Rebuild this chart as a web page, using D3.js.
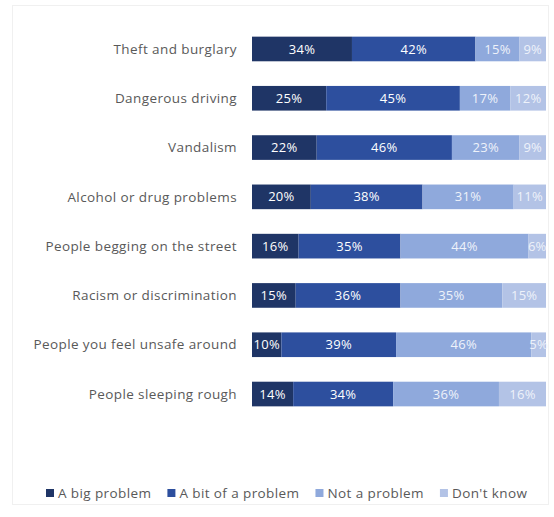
<!DOCTYPE html>
<html>
<head>
<meta charset="utf-8">
<script src="https://cdn.jsdelivr.net/npm/d3@7"></script>
<style>
  html, body { margin: 0; padding: 0; background: #ffffff; }
  svg { display: block; }
</style>
</head>
<body>
<svg id="chart" width="554" height="517"></svg>
<script>
// Survey issues, top to bottom
const categories = [
  "Theft and burglary",
  "Dangerous driving",
  "Vandalism",
  "Alcohol or drug problems",
  "People begging on the street",
  "Racism or discrimination",
  "People you feel unsafe around",
  "People sleeping rough"
];

const seriesNames = ["A big problem", "A bit of a problem", "Not a problem", "Don't know"];

// Percentages per series, in category order
const bigProblem   = [34, 25, 22, 20, 16, 15, 10, 14];
const bitOfProblem = [42, 45, 46, 38, 35, 36, 39, 34];
const notProblem   = [15, 17, 23, 31, 44, 35, 46, 36];
const dontKnow     = [ 9, 12,  9, 11,  6, 15,  5, 16];

const seriesValues = [bigProblem, bitOfProblem, notProblem, dontKnow];
const colors = ["#1f3566", "#2d4f9e", "#8fa9dc", "#b3c3e6"];

const svg = d3.select("#chart");

// faint frame around the chart area
svg.append("rect")
  .attr("x", 12.5).attr("y", 5.5)
  .attr("width", 536).attr("height", 499)
  .attr("fill", "none")
  .attr("stroke", "#f0f0f0")
  .attr("stroke-width", 1);

const rows = categories.map((c, i) => {
  const r = { category: c };
  seriesNames.forEach((s, j) => r[s] = seriesValues[j][i]);
  r.total = d3.sum(seriesValues, v => v[i]);
  return r;
});

const stacked = d3.stack().keys(seriesNames)(rows);

const x = d3.scaleLinear().domain([0, 100]).range([252, 546]);
const y = d3.scaleBand().domain(categories).range([12, 431]).paddingInner(0.5).paddingOuter(0.5);

const font = "'Open Sans', 'Liberation Sans', sans-serif";

// category labels
svg.append("g")
  .selectAll("text")
  .data(categories)
  .join("text")
  .attr("x", 237)
  .attr("y", d => y(d) + y.bandwidth() / 2)
  .attr("dy", "0.35em")
  .attr("text-anchor", "end")
  .attr("font-family", font)
  .attr("font-size", 13.5)
  .attr("letter-spacing", 0.4)
  .attr("fill", "#595959")
  .text(d => d);

// stacked bars (each row scaled to its own total so the bar fills the width)
const groups = svg.append("g")
  .selectAll("g")
  .data(stacked)
  .join("g")
  .attr("fill", (d, i) => colors[i]);

groups.selectAll("rect")
  .data(d => d.map(p => ({ p, total: p.data.total, cat: p.data.category })))
  .join("rect")
  .attr("x", d => x(d.p[0] * 100 / d.total))
  .attr("y", d => y(d.cat))
  .attr("width", d => x(d.p[1] * 100 / d.total) - x(d.p[0] * 100 / d.total))
  .attr("height", y.bandwidth());

// value labels
groups.selectAll("text")
  .data((d, i) => d.map(p => ({ p, total: p.data.total, cat: p.data.category, key: d.key, idx: i })))
  .join("text")
  .attr("x", d => x(((d.p[0] + d.p[1]) / 2) * 100 / d.total))
  .attr("y", d => y(d.cat) + y.bandwidth() / 2)
  .attr("dy", "0.35em")
  .attr("text-anchor", "middle")
  .attr("font-family", font)
  .attr("font-size", 13)
  .attr("letter-spacing", 0.3)
  .attr("fill", d => d.idx < 2 ? "#ffffff" : "#eef2fa")
  .text(d => (d.p[1] - d.p[0]) + "%");

// legend
const legend = svg.append("g");
let lx = 46;
const ly = 493;
seriesNames.forEach((name, i) => {
  legend.append("rect")
    .attr("x", lx).attr("y", ly - 4)
    .attr("width", 8).attr("height", 8)
    .attr("fill", colors[i]);
  const t = legend.append("text")
    .attr("x", lx + 12)
    .attr("y", ly)
    .attr("dy", "0.35em")
    .attr("font-family", font)
    .attr("font-size", 13.5)
    .attr("letter-spacing", 0.4)
    .attr("fill", "#595959")
    .text(name);
  lx += 12 + t.node().getComputedTextLength() + 16;
});
</script>
</body>
</html>
